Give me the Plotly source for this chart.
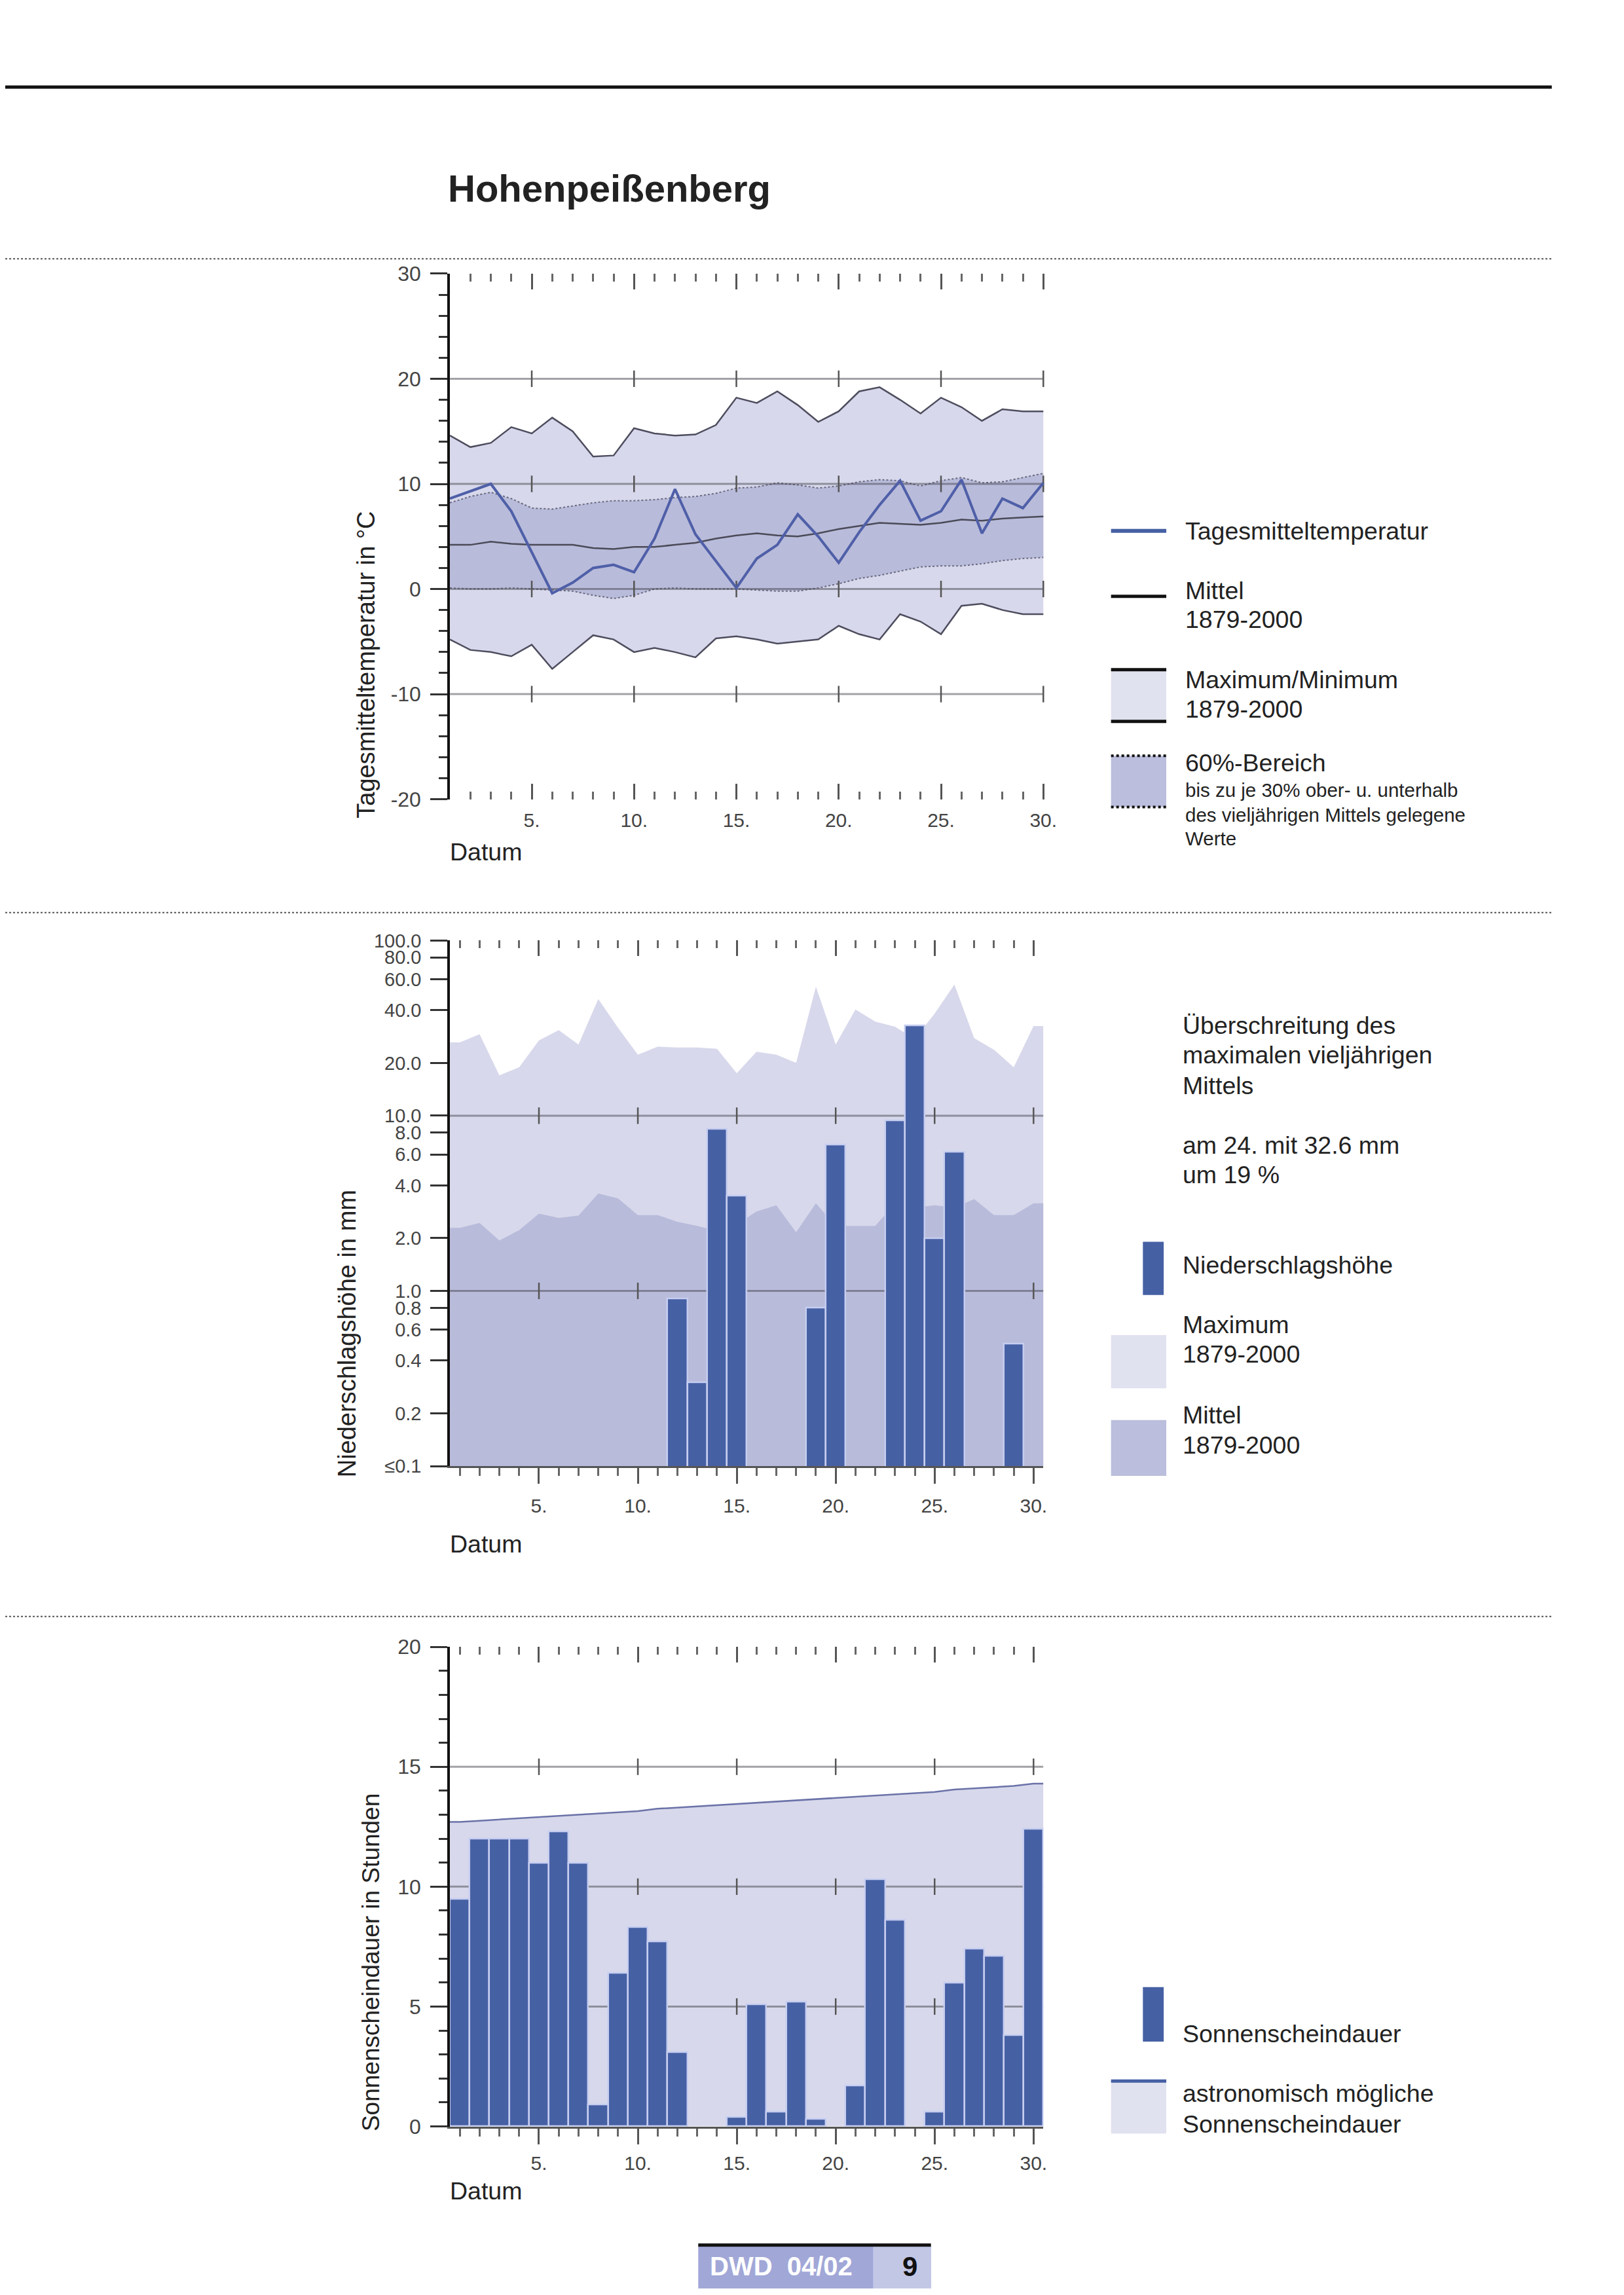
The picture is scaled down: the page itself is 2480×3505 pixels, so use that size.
import math
import plotly.graph_objects as go

W, H = 2480, 3505

# ---------------- data ----------------
days = list(range(1, 31))
day_tick_vals = [5, 10, 15, 20, 25, 30]
day_tick_text = ["5.", "10.", "15.", "20.", "25.", "30."]

# Temperature chart (°C)
temp_daily = [8.6, 9.3, 10.0, 7.4, 3.5, -0.4, 0.6, 2.0, 2.3, 1.6,
              4.8, 9.5, 5.2, 2.7, 0.1, 2.9, 4.2, 7.1, 5.0, 2.5,
              5.4, 8.0, 10.3, 6.5, 7.4, 10.4, 5.3, 8.6, 7.7, 10.1]
temp_mean = [4.2, 4.2, 4.5, 4.3, 4.2, 4.2, 4.2, 3.9, 3.8, 4.0,
             4.0, 4.2, 4.4, 4.8, 5.1, 5.3, 5.1, 5.0, 5.3, 5.7,
             6.0, 6.3, 6.2, 6.1, 6.3, 6.6, 6.5, 6.7, 6.8, 6.9]
temp_max = [14.6, 13.5, 13.9, 15.4, 14.8, 16.3, 15.0, 12.6, 12.7, 15.3,
            14.8, 14.6, 14.7, 15.6, 18.2, 17.7, 18.8, 17.5, 15.9, 16.9,
            18.8, 19.2, 18.0, 16.7, 18.2, 17.3, 16.0, 17.1, 16.9, 16.9]
temp_min = [-4.8, -5.8, -6.0, -6.4, -5.3, -7.6, -6.0, -4.4, -4.8, -6.0,
            -5.6, -6.0, -6.5, -4.7, -4.5, -4.8, -5.2, -5.0, -4.8, -3.5,
            -4.3, -4.8, -2.4, -3.1, -4.3, -1.6, -1.4, -2.0, -2.4, -2.4]
temp_band_hi = [8.2, 8.8, 9.2, 8.6, 7.7, 7.6, 7.9, 8.2, 8.4, 8.4,
                8.5, 8.7, 8.8, 9.1, 9.6, 9.7, 10.1, 9.9, 9.6, 9.8,
                10.2, 10.4, 10.3, 9.8, 10.3, 10.6, 10.1, 10.2, 10.6, 11.0]
temp_band_lo = [0.1, 0.0, 0.0, 0.1, 0.0, -0.1, -0.2, -0.6, -0.9, -0.6,
                0.0, 0.1, 0.0, 0.0, 0.0, -0.1, -0.2, -0.2, 0.1, 0.5,
                1.0, 1.3, 1.7, 2.1, 2.2, 2.2, 2.4, 2.7, 2.9, 3.0]
temp_range = [-20, 30]
temp_tick_vals = [30, 20, 10, 0, -10, -20]
temp_tick_text = ["30", "20", "10", "0", "-10", "-20"]
temp_minor_vals = list(range(-20, 31, 2))
temp_grid = [20, 10, 0, -10]

# Precipitation chart (mm)
precip = [0, 0, 0, 0, 0, 0, 0, 0, 0, 0,
          0, 0.9, 0.3, 8.4, 3.5, 0, 0, 0, 0.8, 6.8,
          0, 0, 9.4, 32.6, 2.0, 6.2, 0, 0, 0.5, 0]
precip_max = [26.2, 29.2, 17.0, 18.9, 26.9, 30.8, 25.5, 46.3, 31.7, 22.3,
              24.8, 24.5, 24.5, 24.1, 17.5, 23.2, 22.3, 20.0, 54.5, 25.5,
              40.4, 34.4, 32.2, 27.4, 38.3, 56.0, 27.7, 23.8, 18.9, 32.5]
precip_mean = [2.29, 2.44, 1.94, 2.22, 2.76, 2.61, 2.69, 3.60, 3.37, 2.71,
               2.71, 2.48, 2.35, 2.20, 2.40, 2.84, 3.08, 2.16, 3.16, 2.35,
               2.35, 2.35, 3.16, 2.99, 3.08, 2.99, 3.34, 2.71, 2.71, 3.16]
precip_range = [0.1, 100]
precip_tick_vals = [100, 80, 60, 40, 20, 10, 8, 6, 4, 2, 1, 0.8, 0.6, 0.4, 0.2, 0.1]
precip_tick_text = ["100.0", "80.0", "60.0", "40.0", "20.0", "10.0", "8.0", "6.0",
                    "4.0", "2.0", "1.0", "0.8", "0.6", "0.4", "0.2", "≤0.1"]
precip_grid = [10, 1]

# Sunshine chart (hours)
sun = [9.5, 12.0, 12.0, 12.0, 11.0, 12.3, 11.0, 0.9, 6.4, 8.3,
       7.7, 3.1, 0, 0, 0.4, 5.1, 0.6, 5.2, 0.3, 0,
       1.7, 10.3, 8.6, 0, 0.6, 6.0, 7.4, 7.1, 3.8, 12.4]
sun_astro = [12.70, 12.75, 12.80, 12.85, 12.90, 12.95, 13.00, 13.05, 13.10, 13.15,
             13.25, 13.30, 13.35, 13.40, 13.45, 13.50, 13.55, 13.60, 13.65, 13.70,
             13.75, 13.80, 13.85, 13.90, 13.95, 14.05, 14.10, 14.15, 14.20, 14.30]
sun_range = [0, 20]
sun_tick_vals = [0, 5, 10, 15, 20]
sun_minor_vals = list(range(0, 21, 1))
sun_grid = [15, 10, 5]

bar_range = [0.5, 30.5]
line_range = [1, 30]

# ---------------- styles ----------------
FONT = "Liberation Sans, Arial, Helvetica, sans-serif"
LIGHT = "#d7d8eb"
MID = "#b8bbda"
BLUE = "#4660a4"
SW_LIGHT = "#e1e2ef"
SW_MID = "#bbbedc"
GRID = "rgba(70,70,80,0.5)"
TXT = "#222222"
TICKTXT = "#444444"


def px(x):
    return x / W


def py(y):
    return 1 - y / H


XD = [px(684), px(1597)]
XD1 = [px(684), px(1600)]          # temperature panel: small pad to the right
YD1 = [py(1207), py(396)]
YD2 = [py(2236), py(1425)]
YD3 = [py(3255), py(2515)]

# pad so that inside ticks at the last day are kept (plotly drops ticks at the very edge)
line_axis_range = [line_range[0], line_range[1] + 0.1]

fig = go.Figure()


def grid_trace(xr, vals, xa, ya):
    xs, ys = [], []
    for g in vals:
        xs += [xr[0], xr[1], None]
        ys += [g, g, None]
    return go.Scatter(x=xs, y=ys, mode="lines", line=dict(color=GRID, width=3),
                      xaxis=xa, yaxis=ya, hoverinfo="skip")


def cross_trace(vals, xa, ya):
    xs, ys = [], []
    for g in vals:
        for d in day_tick_vals:
            xs.append(d)
            ys.append(g)
    return go.Scatter(x=xs, y=ys, mode="markers", cliponaxis=False,
                      marker=dict(symbol="line-ns", size=18, color="#555",
                                  line=dict(width=2.5, color="#555")),
                      xaxis=xa, yaxis=ya, hoverinfo="skip")


def anchor_trace(xr, yr, xa, ya):
    # invisible trace so the top tick axis gets its own (overlay) subplot drawn
    return go.Scatter(x=[xr[0]], y=[yr[0]], mode="markers", marker=dict(opacity=0),
                      xaxis=xa, yaxis=ya, hoverinfo="skip")


# ---- temperature ----
fig.add_trace(go.Scatter(x=days, y=temp_min, mode="lines",
                         line=dict(color="#4d4d5e", width=2.5), xaxis="x", yaxis="y"))
fig.add_trace(go.Scatter(x=days, y=temp_max, mode="lines", fill="tonexty", fillcolor=LIGHT,
                         line=dict(color="#4d4d5e", width=2.5), xaxis="x", yaxis="y"))
fig.add_trace(go.Scatter(x=days, y=temp_band_lo, mode="lines",
                         line=dict(color="#6a6a80", width=2, dash="dot"), xaxis="x", yaxis="y"))
fig.add_trace(go.Scatter(x=days, y=temp_band_hi, mode="lines", fill="tonexty", fillcolor=MID,
                         line=dict(color="#6a6a80", width=2, dash="dot"), xaxis="x", yaxis="y"))
fig.add_trace(grid_trace(line_range, temp_grid, "x", "y"))
fig.add_trace(cross_trace(temp_grid, "x", "y"))
fig.add_trace(go.Scatter(x=days, y=temp_mean, mode="lines",
                         line=dict(color="#4a4a58", width=2.5), xaxis="x", yaxis="y"))
fig.add_trace(go.Scatter(x=days, y=temp_daily, mode="lines",
                         line=dict(color="#4f5fa8", width=4), xaxis="x", yaxis="y"))
fig.add_trace(anchor_trace(line_range, temp_range, "x4", "y"))

# ---- precipitation ----
ext_x = [bar_range[0]] + days + [bar_range[1]]
base_y = [precip_range[0]] * len(ext_x)
fig.add_trace(go.Scatter(x=ext_x, y=base_y, mode="lines", line=dict(width=0),
                         xaxis="x2", yaxis="y2", hoverinfo="skip"))
fig.add_trace(go.Scatter(x=ext_x, y=[precip_max[0]] + precip_max + [precip_max[-1]],
                         mode="lines", fill="tonexty", fillcolor=LIGHT, line=dict(width=0),
                         xaxis="x2", yaxis="y2"))
fig.add_trace(go.Scatter(x=ext_x, y=base_y, mode="lines", line=dict(width=0),
                         xaxis="x2", yaxis="y2", hoverinfo="skip"))
fig.add_trace(go.Scatter(x=ext_x, y=[precip_mean[0]] + precip_mean + [precip_mean[-1]],
                         mode="lines", fill="tonexty", fillcolor=MID, line=dict(width=0),
                         xaxis="x2", yaxis="y2"))
fig.add_trace(grid_trace(bar_range, precip_grid, "x2", "y2"))
fig.add_trace(cross_trace(precip_grid, "x2", "y2"))
fig.add_trace(go.Bar(x=days, y=[v if v > 0 else None for v in precip], width=1.0,
                     marker=dict(color=BLUE, line=dict(color="#c6cdf0", width=2.5)),
                     xaxis="x2", yaxis="y4"))
fig.add_trace(anchor_trace(bar_range, precip_range, "x5", "y2"))

# ---- sunshine ----
fig.add_trace(go.Scatter(x=ext_x, y=[sun_astro[0]] + sun_astro + [sun_astro[-1]],
                         mode="lines", fill="tozeroy", fillcolor=LIGHT,
                         line=dict(color="#6a72a8", width=2.5), xaxis="x3", yaxis="y3"))
fig.add_trace(grid_trace(bar_range, sun_grid, "x3", "y3"))
fig.add_trace(cross_trace(sun_grid, "x3", "y3"))
fig.add_trace(go.Bar(x=days, y=[v if v > 0 else None for v in sun], width=1.0,
                     marker=dict(color=BLUE, line=dict(color="#c6cdf0", width=2.5)),
                     xaxis="x3", yaxis="y5"))
fig.add_trace(anchor_trace(bar_range, sun_range, "x6", "y3"))

# ---------------- axes ----------------
xtickfont = dict(family=FONT, size=30, color=TICKTXT)


def x_bottom(dom, rng, anchor, inside, standoff):
    d = dict(domain=dom, range=rng, anchor=anchor, tickmode="array",
             tickvals=day_tick_vals, ticktext=day_tick_text,
             ticks="inside" if inside else "outside", ticklen=24, tickwidth=2.5,
             tickcolor="#555", tickfont=xtickfont, showgrid=False, zeroline=False,
             ticklabelstandoff=standoff,
             minor=dict(tickmode="array", tickvals=days, ticks="inside" if inside else "outside",
                        ticklen=12, tickwidth=2.5, tickcolor="#666", showgrid=False))
    if inside:
        d.update(showline=False)
    else:
        d.update(showline=True, linecolor="#555", linewidth=3)
    return d


def x_top(dom, rng, anchor, over):
    return dict(domain=dom, range=rng, anchor=anchor, overlaying=over, side="top",
                tickmode="array", tickvals=day_tick_vals, ticks="inside", ticklen=24,
                tickwidth=2.5, tickcolor="#555", showticklabels=False, showgrid=False,
                zeroline=False, showline=False,
                minor=dict(tickmode="array", tickvals=days, ticks="inside",
                           ticklen=12, tickwidth=2.5, tickcolor="#666", showgrid=False))


def y_axis(dom, rng, anchor, vals, text, fsize, minor_vals=None, typ="linear"):
    d = dict(domain=dom, range=rng, anchor=anchor, type=typ, tickmode="array",
             tickvals=vals, ticktext=text, ticks="outside", ticklen=26, tickwidth=2.5,
             tickcolor="#333", tickfont=dict(family=FONT, size=fsize, color=TICKTXT),
             showline=True, linecolor="#111",
             linewidth=3.5, showgrid=False, zeroline=False, ticklabelstandoff=8)
    if minor_vals is not None:
        d["minor"] = dict(tickmode="array", tickvals=minor_vals, ticks="outside",
                          ticklen=13, tickwidth=2.5, tickcolor="#333", showgrid=False)
    return d


precip_log_range = [math.log10(precip_range[0]), math.log10(precip_range[1])]

layout = dict(
    width=W, height=H, autosize=False,
    margin=dict(l=0, r=0, t=0, b=0),
    paper_bgcolor="white", plot_bgcolor="white",
    showlegend=False, bargap=0,
    font=dict(family=FONT, color=TXT),
    xaxis=x_bottom(XD1, line_axis_range, "y", True, 11),
    xaxis4=x_top(XD1, line_axis_range, "y", "x"),
    yaxis=y_axis(YD1, temp_range, "x", temp_tick_vals, temp_tick_text, 32, temp_minor_vals),
    xaxis2=x_bottom(XD, bar_range, "y2", False, 8),
    xaxis5=x_top(XD, bar_range, "y2", "x2"),
    yaxis2=y_axis(YD2, precip_log_range, "x2", precip_tick_vals, precip_tick_text, 29,
                  None, "log"),
    yaxis4=dict(domain=YD2, range=precip_log_range, type="log", overlaying="y2",
                anchor="x2", visible=False),
    xaxis3=x_bottom(XD, bar_range, "y3", False, 3),
    xaxis6=x_top(XD, bar_range, "y3", "x3"),
    yaxis3=y_axis(YD3, sun_range, "x3", sun_tick_vals, [str(v) for v in sun_tick_vals], 32,
                  sun_minor_vals),
    yaxis5=dict(domain=YD3, range=sun_range, overlaying="y3", anchor="x3", visible=False),
)
fig.update_layout(**layout)

# ---------------- page decorations ----------------
shapes = []
shapes.append(dict(type="line", xref="paper", yref="paper", x0=0, x1=px(2379),
                   y0=py(108), y1=py(108), line=dict(color="#111", width=5)))
for yy in [373, 1382, 2468]:
    shapes.append(dict(type="line", xref="paper", yref="paper", x0=0, x1=px(2379),
                       y0=py(yy), y1=py(yy), line=dict(color="#555", width=2, dash="dot")))


def rect(x0, y0, x1, y1, color):
    return dict(type="rect", xref="paper", yref="paper", x0=px(x0), x1=px(x1),
                y0=py(y1), y1=py(y0), fillcolor=color, line=dict(width=0), layer="above")


def hline(x0, x1, y, color, width, dash="solid"):
    return dict(type="line", xref="paper", yref="paper", x0=px(x0), x1=px(x1),
                y0=py(y), y1=py(y), line=dict(color=color, width=width, dash=dash))


SX0, SX1 = 1701, 1786
BX0, BX1 = 1750, 1782
shapes += [
    hline(SX0, SX1, 793, BLUE, 6),
    hline(SX0, SX1, 894, "#111", 5),
    rect(SX0, 1007, SX1, 1087, SW_LIGHT),
    hline(SX0, SX1, 1007, "#111", 5),
    hline(SX0, SX1, 1087, "#111", 5),
    rect(SX0, 1140, SX1, 1219, SW_MID),
    hline(SX0, SX1, 1140, "#111", 4, "dot"),
    hline(SX0, SX1, 1219, "#111", 4, "dot"),
    rect(BX0, 1890, BX1, 1972, BLUE),
    rect(SX0, 2034, SX1, 2116, SW_LIGHT),
    rect(SX0, 2165, SX1, 2251, SW_MID),
    rect(BX0, 3040, BX1, 3124, BLUE),
    rect(SX0, 3184, SX1, 3266, SW_LIGHT),
    hline(SX0, SX1, 3185, BLUE, 5),
    # footer
    rect(1066, 3439, 1424, 3505, "#a1a7d7"),
    rect(1335, 3439, 1424, 3505, "#c3c7e6"),
    hline(1066, 1424, 3438, "#111", 5),
]
fig.update_layout(shapes=shapes)

annotations = []


def txt(text, x, y, size, color=TXT, anchor="left", bold=False, angle=0):
    t = "<b>" + text + "</b>" if bold else text
    annotations.append(dict(text=t, xref="paper", yref="paper", x=px(x), y=py(y),
                            xanchor=anchor, yanchor="middle", showarrow=False,
                            textangle=angle, font=dict(family=FONT, size=size, color=color)))


txt("Hohenpeißenberg", 679, 264, 58, bold=True)

txt("Tagesmitteltemperatur in °C", 555, 999, 38, anchor="center", angle=-90)
txt("Niederschlagshöhe in mm", 526, 2032, 38, anchor="center", angle=-90)
txt("Sonnenscheindauer in Stunden", 562, 3002, 37, anchor="center", angle=-90)

txt("Datum", 682, 1288, 37.5)
txt("Datum", 682, 2356, 37.5)
txt("Datum", 682, 3354, 37.5)

legend_top = [("Tagesmitteltemperatur", 793, 37.5), ("Mittel", 885, 37.5),
              ("1879-2000", 930, 37.5), ("Maximum/Minimum", 1023, 37.5),
              ("1879-2000", 1068, 37.5), ("60%-Bereich", 1151, 37.5),
              ("bis zu je 30% ober- u. unterhalb", 1193, 29.5),
              ("des vieljährigen Mittels gelegene", 1231, 29.5), ("Werte", 1268, 29.5)]
for t, y, s in legend_top:
    txt(t, 1813, y, s)

legend_mid = [("Überschreitung des", 1556), ("maximalen vieljährigen", 1601), ("Mittels", 1649),
              ("am 24. mit 32.6 mm", 1741), ("um 19 %", 1786), ("Niederschlagshöhe", 1926),
              ("Maximum", 2018), ("1879-2000", 2063), ("Mittel", 2157), ("1879-2000", 2204)]
for t, y in legend_mid:
    txt(t, 1809, y, 37.5)

legend_bot = [("Sonnenscheindauer", 3112), ("astronomisch mögliche", 3204),
              ("Sonnenscheindauer", 3251)]
for t, y in legend_bot:
    txt(t, 1809, y, 37.5)

txt("DWD  04/02", 1082, 3471, 40, color="white", bold=True)
txt("9", 1392, 3471, 42, color="#111", anchor="center", bold=True)

fig.update_layout(annotations=annotations)

fig.write_html("out.html")
